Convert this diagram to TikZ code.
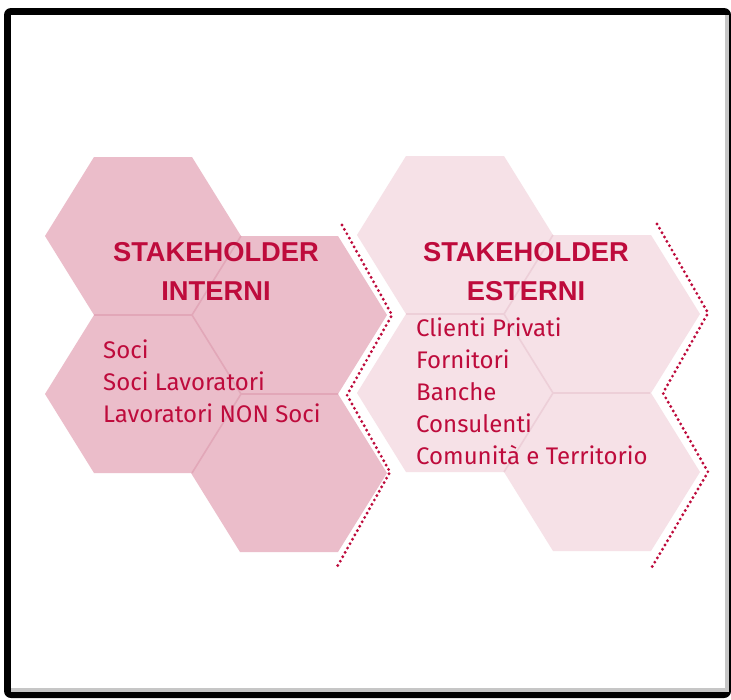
\documentclass[tikz,border=0pt]{standalone}
\usepackage{fontspec}
\setmainfont{Fira Sans}
\newfontfamily\titlefont{Liberation Sans}
\usepackage{tikz}
\usetikzlibrary{calc}

\definecolor{crim}{HTML}{BE0B3C}
\definecolor{hexin}{HTML}{EBBDCA}
\definecolor{hexinedge}{HTML}{E2A7B8}
\definecolor{hexout}{HTML}{F6E1E7}
\definecolor{hexoutedge}{HTML}{EDCFD8}

\tikzset{
	hexint/.style={fill=hexin},
	hexext/.style={fill=hexout},
	seamint/.style={draw=hexinedge, line width=1.6pt},
	seamext/.style={draw=hexoutedge, line width=1.6pt},
	zigzag/.style={draw=crim, line width=3.2pt, line cap=round, dash pattern=on 0pt off 5pt},
	title/.style={text=crim, align=center, inner sep=0pt, anchor=north, font=\titlefont\fontsize{27.3}{39}\selectfont\bfseries},
	listing/.style={text=crim, align=left, inner sep=0pt, anchor=north west, font=\fontsize{24}{31.8}\selectfont}
}

% one hexagon, flat top, centre (#2,#3)
\newcommand{\hexa}[3]{%
	\fill[#1] (#2-98,#3) -- (#2-49,#3-79) -- (#2+49,#3-79) -- (#2+98,#3) -- (#2+49,#3+79) -- (#2-49,#3+79) -- cycle;}

% shared edges of a group of four, top-left centre (#2,#3)
\newcommand{\seams}[3]{%
	\draw[#1] (#2-49,#3+79) -- (#2+49,#3+79) -- (#2+98,#3);
	\draw[#1] (#2+49,#3+79) -- (#2+98,#3+158) -- (#2+195,#3+158);
	\draw[#1] (#2+98,#3+158) -- (#2+49,#3+237);}

\begin{document}
\begin{tikzpicture}[x=1pt, y=-1pt]

	\useasboundingbox (0,0) rectangle (731,699);

	%Frame
	\fill[black, rounded corners=7pt] (4,8) rectangle (731,698);
	\fill[gray!45] (11,15) rectangle (729,692);
	\fill[white] (11,15) rectangle (725,688);

	%Hexagons interni
	\foreach \cx/\cy in {143/236, 289/315, 143/394, 289/473}
		{\hexa{hexint}{\cx}{\cy}}
	\seams{seamint}{143}{236}

	%Hexagons esterni
	\foreach \cx/\cy in {455/235, 602/314, 455/393, 602/472}
		{\hexa{hexext}{\cx}{\cy}}
	\seams{seamext}{455}{235}

	%Zigzag separators
	\coordinate (l1) at (342,225);
	\coordinate (l2) at (392,315);
	\coordinate (l3) at (347,395);
	\coordinate (l4) at (390,472);
	\coordinate (l5) at (337,567);
	\draw[zigzag] (l1) -- (l2) -- (l3) -- (l4) -- (l5);

	\coordinate (r1) at (657,224);
	\coordinate (r2) at (708,313);
	\coordinate (r3) at (663,393);
	\coordinate (r4) at (708,472);
	\coordinate (r5) at (652,567);
	\draw[zigzag] (r1) -- (r2) -- (r3) -- (r4) -- (r5);

	%Titles
	\node[title] (tint) at (216,242) {STAKEHOLDER\\INTERNI};
	\node[title] (text) at (526,242) {STAKEHOLDER\\ESTERNI};

	%Lists
	\node[listing] (lint) at (103,340) {Soci\\Soci Lavoratori\\Lavoratori NON Soci};
	\node[listing] (lext) at (416,318) {Clienti Privati\\Fornitori\\Banche\\Consulenti\\Comunità e Territorio};

\end{tikzpicture}
\end{document}
